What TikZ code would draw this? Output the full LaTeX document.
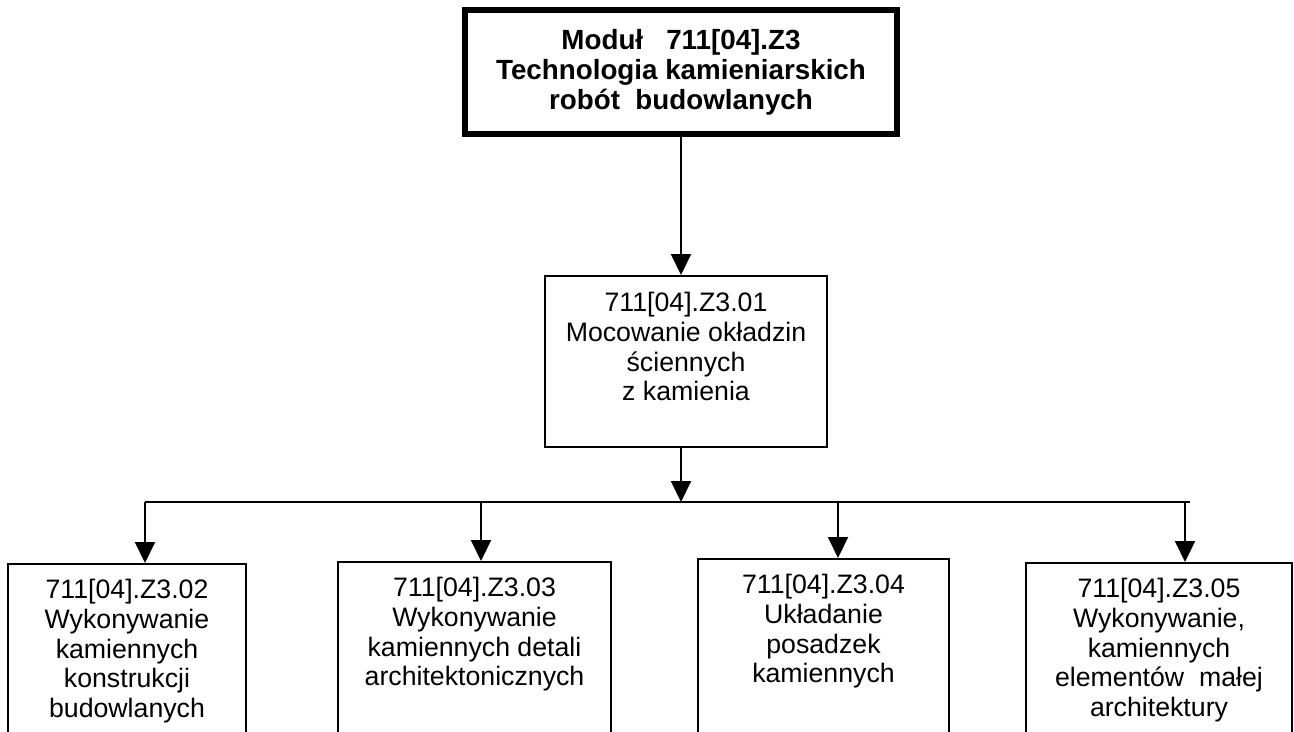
\documentclass[tikz,border=0pt]{standalone}
\usepackage{fontspec}
\setmainfont{Liberation Sans}
\usetikzlibrary{arrows.meta}

% text at the top of a box: height, width, gap above, lines
\newcommand{\boxtext}[4]{\parbox[c][#1][t]{#2}{\centering\vspace*{#3}#4}}

\begin{document}
\begin{tikzpicture}[x=0.02cm,y=-0.02cm,
        topbox/.style={draw,line width=0.12cm,align=center,
            minimum width=8.64cm,minimum height=2.5cm,
            font=\fontsize{15.8}{17}\selectfont\bfseries},
        unitbox/.style={draw,line width=0.04cm,inner sep=0pt,anchor=north,
            font=\fontsize{15.2}{17}\selectfont},
        link/.style={line width=0.04cm},
        arr/.style={link,-{Triangle[length=0.42cm,width=0.4cm]}}
    ]
    \useasboundingbox (0,0) rectangle (1294,731);
    \clip (0,0) rectangle (1294,731);

    % module
    \node[topbox] (modul) at (681,72) {Moduł\ \ \ 711[04].Z3\\Technologia kamieniarskich\\robót\ \ budowlanych};

    % first unit
    \node[unitbox] (z301) at (686,275)
        {\boxtext{3.42cm}{5.64cm}{0.32cm}{711[04].Z3.01\\Mocowanie okładzin\\ściennych\\z kamienia}};

    % the other units, cut off at the bottom of the page
    \node[unitbox] (z302) at (127,563)
        {\boxtext{4cm}{4.76cm}{0.3cm}{711[04].Z3.02\\Wykonywanie\\kamiennych\\konstrukcji\\budowlanych}};
    \node[unitbox] (z303) at (474.5,561)
        {\boxtext{4cm}{5.46cm}{0.3cm}{711[04].Z3.03\\Wykonywanie\\kamiennych detali\\architektonicznych}};
    \node[unitbox] (z304) at (823.5,558)
        {\boxtext{4cm}{5.02cm}{0.3cm}{711[04].Z3.04\\Układanie\\posadzek\\kamiennych}};
    \node[unitbox] (z305) at (1159,562)
        {\boxtext{4cm}{5.32cm}{0.3cm}{711[04].Z3.05\\Wykonywanie,\\kamiennych\\elementów\ \ małej\\architektury}};

    % bus
    \coordinate (hub) at (681,502);
    \coordinate (busL) at (145,502);
    \coordinate (busR) at (1190,502);
    \coordinate (d2) at (145,502);
    \coordinate (d3) at (481,502);
    \coordinate (d4) at (838,502);
    \coordinate (d5) at (1185,502);

    \draw[arr] (modul.south) -- (modul.south |- z301.north);
    \draw[arr] (hub |- z301.south) -- (hub);
    \draw[link] (busL) -- (busR);
    \foreach \d/\u in {d2/z302,d3/z303,d4/z304,d5/z305}
        \draw[arr] (\d) -- (\d |- \u.north);
\end{tikzpicture}
\end{document}
